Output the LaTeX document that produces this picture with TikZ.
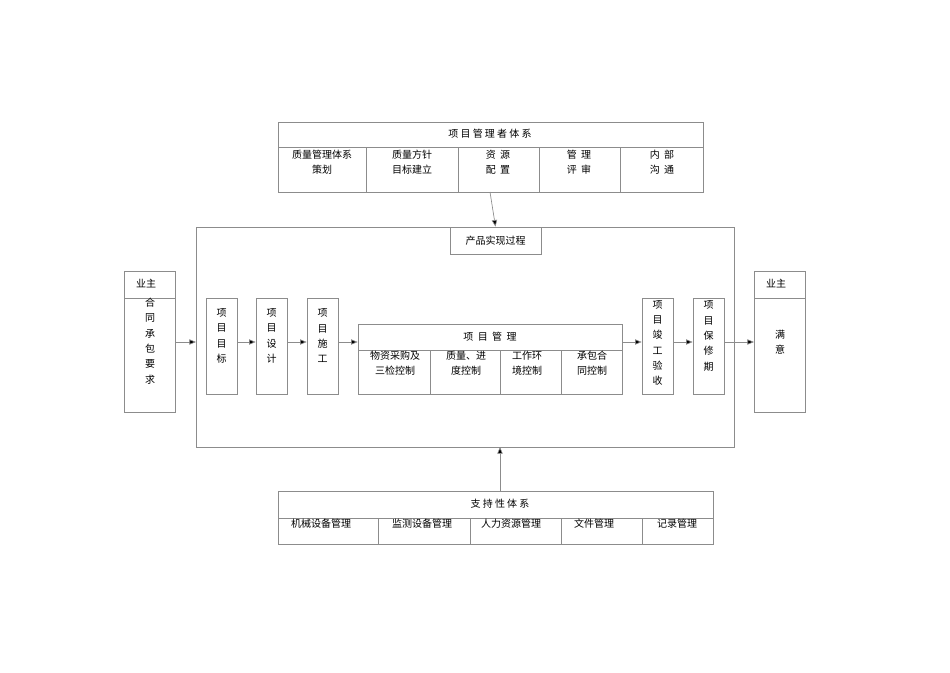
\documentclass[tikz,border=0pt]{standalone}
\usepackage{fontspec}
\setmainfont{Noto Sans CJK SC}
\usetikzlibrary{arrows.meta}
\begin{document}
\begin{tikzpicture}[x=0.75pt,y=-0.75pt,
  bx/.style={draw=black!45,line width=0.5pt},
  ln/.style={draw=black!45,line width=0.5pt},
  ar/.style={draw=black!45,line width=0.5pt,-{Triangle[length=5pt,width=4pt,fill=black]}},
  tx/.style={font=\fontsize{7.5}{11}\selectfont,align=center,inner sep=0pt},
  vt/.style={font=\fontsize{7.5}{11.5}\selectfont,align=center,text width=8pt,inner sep=0pt}]
\useasboundingbox (0,0) rectangle (950,672);
% top box
\draw[bx] (278,122) rectangle (703,192);
\draw[ln] (278,147) -- (703,147);
\foreach \x in {366,458,539,620} \draw[ln] (\x,147) -- (\x,192);
\node[tx] (th) at (490,134) {项\ 目\ 管\ 理\ 者\ 体\ 系};
\node[tx] at (322,162) {质量管理体系\\策划};
\node[tx] at (412,162) {质量方针\\目标建立};
\node[tx] at (498,162) {资\ \ 源\\配\ \ 置};
\node[tx] at (579,162) {管\ \ 理\\评\ \ 审};
\node[tx] at (662,162) {内\ \ 部\\沟\ \ 通};
\coordinate (ts) at (490,192);
% main box
\draw[bx] (196,227) rectangle (734,447);
\node[bx,minimum width=68.25pt,minimum height=20.25pt,tx] (pr) at (495.5,240.5) {产品实现过程};
\draw[ar] (ts) -- (pr.north);
% left owner
\draw[bx] (124,271) rectangle (175,412);
\draw[ln] (124,298) -- (175,298);
\node[tx] at (146,284) {业主};
\node[vt] at (150,341) {合\\同\\承\\包\\要\\求};
\coordinate (lo) at (175,342);
% right owner
\draw[bx] (754,271) rectangle (805,412);
\draw[ln] (754,298) -- (805,298);
\node[tx] at (776,284) {业主};
\node[vt] at (780,342) {满\\意};
\coordinate (ro) at (754,342);
% small boxes
\tikzset{sb/.style={bx,minimum width=23.25pt,minimum height=72pt,inner sep=0pt}}
\node[sb] (b1) at (221.5,346) {};
\node[vt] at (221.5,336) {项\\目\\目\\标};
\node[sb] (b2) at (271.5,346) {};
\node[vt] at (271.5,336) {项\\目\\设\\计};
\node[sb] (b3) at (322.5,346) {};
\node[vt] at (322.5,336) {项\\目\\施\\工};
\node[sb] (b4) at (657.5,346) {};
\node[vt] at (657.5,343) {项\\目\\竣\\工\\验\\收};
\node[sb] (b5) at (708.5,346) {};
\node[vt] at (708.5,336) {项\\目\\保\\修\\期};
% project management
\node[bx,minimum width=198pt,minimum height=52.5pt,inner sep=0pt] (pm) at (490,359) {};
\draw[ln] (358,350) -- (622,350);
\foreach \x in {430,500,561} \draw[ln] (\x,350) -- (\x,394);
\node[tx] at (490,337) {项\ \ 目\ \ 管\ \ 理};
\node[tx] at (395,363) {物资采购及\\三检控制};
\node[tx] at (466,363) {质量、进\\度控制};
\node[tx] at (527,363) {工作环\\境控制};
\node[tx] at (592,363) {承包合\\同控制};
% arrows
\draw[ar] (lo) -- (196,342);
\draw[ar] (b1.east|-lo) -- (b2.west|-lo);
\draw[ar] (b2.east|-lo) -- (b3.west|-lo);
\draw[ar] (b3.east|-lo) -- (pm.west|-lo);
\draw[ar] (pm.east|-lo) -- (b4.west|-lo);
\draw[ar] (b4.east|-lo) -- (b5.west|-lo);
\draw[ar] (b5.east|-lo) -- (ro);
% bottom
\draw[bx] (278,491) rectangle (713,544);
\draw[ln] (278,518) -- (713,518);
\foreach \x in {378,470,561,642} \draw[ln] (\x,518) -- (\x,544);
\node[tx] at (500,504) {支\ 持\ 性\ 体\ 系};
\node[tx] at (321,524) {机械设备管理};
\node[tx] at (422,524) {监测设备管理};
\node[tx] at (511,524) {人力资源管理};
\node[tx] at (594,524) {文件管理};
\node[tx] at (677,524) {记录管理};
\coordinate (bs) at (500,491);
\draw[ar] (bs) -- (500,447);
\end{tikzpicture}
\end{document}
